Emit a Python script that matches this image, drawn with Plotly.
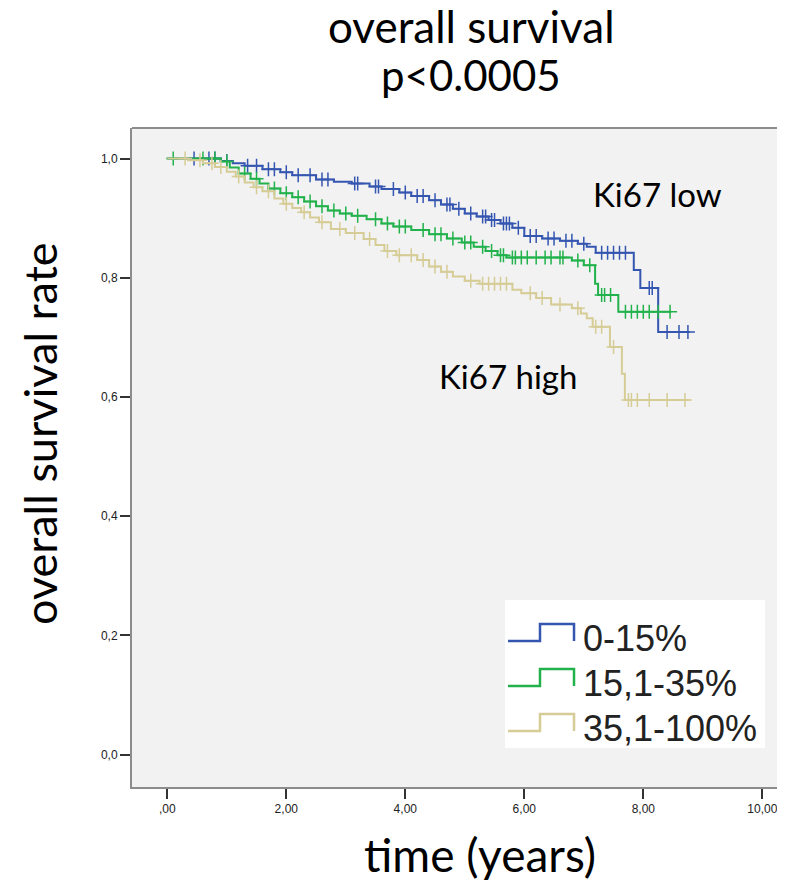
import numpy as np
import plotly.graph_objects as go

# Kaplan-Meier steps (time in years, survival)
low_t = [0, 0.9, 1.1, 1.3, 1.6, 1.9, 2.1, 2.5, 2.8, 3.1, 3.4, 3.6, 3.9, 4.1, 4.4, 4.6, 4.8, 5.0,
         5.2, 5.4, 5.6, 5.8, 6.0, 6.3, 6.6, 6.9, 7.05, 7.2, 7.84, 7.95, 8.25, 8.78]
low_s = [1.0, 0.996, 0.992, 0.988, 0.982, 0.977, 0.972, 0.965, 0.961, 0.958, 0.953, 0.949, 0.943,
         0.937, 0.930, 0.923, 0.916, 0.908, 0.903, 0.897, 0.891, 0.884, 0.870, 0.866, 0.862, 0.857,
         0.852, 0.842, 0.813, 0.783, 0.709, 0.709]
low_cens = [0.45, 0.7, 0.8, 1.0, 1.35, 1.5, 1.7, 1.8, 2.0, 2.2, 2.4, 2.6, 2.7, 3.15, 3.2, 3.5, 3.55,
            3.8, 4.0, 4.2, 4.3, 4.5, 4.7, 4.75, 4.9, 5.1, 5.3, 5.35, 5.45, 5.5, 5.65, 5.7, 5.75, 5.9,
            6.1, 6.2, 6.4, 6.5, 6.7, 6.8, 7.0, 7.3, 7.4, 7.5, 7.6, 7.7, 8.1, 8.15, 8.4, 8.6, 8.75]

mid_t = [0, 0.9, 1.05, 1.2, 1.4, 1.55, 1.7, 1.9, 2.1, 2.3, 2.5, 2.7, 2.9, 3.1, 3.35, 3.6, 3.8, 4.1,
         4.4, 4.7, 4.95, 5.15, 5.35, 5.55, 5.7, 6.8, 7.0, 7.19, 7.24, 7.58, 8.47]
mid_s = [1.0, 0.995, 0.985, 0.975, 0.966, 0.958, 0.950, 0.942, 0.935, 0.928, 0.920, 0.913, 0.908,
         0.904, 0.898, 0.891, 0.886, 0.880, 0.873, 0.866, 0.859, 0.852, 0.845, 0.838, 0.834, 0.829,
         0.821, 0.790, 0.771, 0.743, 0.743]
mid_cens = [0.1, 0.6, 0.8, 1.0, 1.3, 1.5, 1.8, 2.0, 2.2, 2.4, 2.6, 2.8, 3.0, 3.2, 3.5, 3.7, 3.9, 4.0,
            4.3, 4.5, 4.6, 4.8, 5.0, 5.1, 5.3, 5.45, 5.6, 5.65, 5.8, 5.85, 5.95, 6.05, 6.2, 6.35,
            6.45, 6.6, 6.65, 6.9, 7.1, 7.3, 7.35, 7.45, 7.7, 7.8, 7.9, 8.0, 8.1, 8.25, 8.45]

high_t = [0, 0.35, 0.6, 0.8, 1.0, 1.15, 1.3, 1.45, 1.6, 1.8, 1.95, 2.1, 2.25, 2.4, 2.55, 2.75, 3.0,
          3.3, 3.5, 3.65, 3.85, 4.2, 4.4, 4.6, 4.8, 5.0, 5.25, 5.8, 5.95, 6.2, 6.45, 6.8, 6.95,
          7.05, 7.15, 7.44, 7.64, 7.69, 8.77]
high_s = [1.0, 0.997, 0.992, 0.986, 0.978, 0.970, 0.960, 0.952, 0.945, 0.933, 0.924, 0.917, 0.910,
          0.901, 0.893, 0.882, 0.875, 0.865, 0.855, 0.845, 0.838, 0.830, 0.819, 0.810, 0.802, 0.795,
          0.790, 0.780, 0.774, 0.766, 0.755, 0.749, 0.740, 0.732, 0.718, 0.684, 0.639, 0.595, 0.595]
high_cens = [0.3, 0.55, 0.75, 0.9, 1.2, 1.5, 1.7, 2.0, 2.3, 2.6, 2.9, 3.15, 3.4, 3.7, 3.9, 4.1, 4.3,
             4.5, 4.7, 5.1, 5.3, 5.4, 5.5, 5.6, 5.7, 6.1, 6.3, 6.6, 6.9, 7.2, 7.3, 7.5, 7.75, 7.8,
             7.9, 8.1, 8.4, 8.7]

groups = ["0-15%", "15,1-35%", "35,1-100%"]
colors = ["#3556b0", "#22b24c", "#d6cc96"]

x_ticks = [0, 2, 4, 6, 8, 10]
x_ticktext = [",00", "2,00", "4,00", "6,00", "8,00", "10,00"]
y_ticks = [0, 0.2, 0.4, 0.6, 0.8, 1.0]
y_ticktext = ["0,0", "0,2", "0,4", "0,6", "0,8", "1,0"]

# page body has an 8px margin, so the figure is kept a bit smaller to avoid scrollbars
OFF = 8
W, H = 785 - OFF, 894 - 2 * OFF
# plot area in page pixels
L, R, T, B = 132, OFF + W, 128, 787
def px(x): return (x - L) / (R - L)
def py(y): return (B - y) / (B - T)

fig = go.Figure()
for t, s, c, col, name in zip([low_t, mid_t, high_t], [low_s, mid_s, high_s],
                              [low_cens, mid_cens, high_cens], colors, groups):
    fig.add_trace(go.Scatter(x=t, y=s, mode="lines", line=dict(color=col, width=2, shape="hv"),
                             name=name, showlegend=False))
    idx = np.searchsorted(np.array(t), c, side="right") - 1
    cy = np.array(s)[idx]
    fig.add_trace(go.Scatter(x=c, y=cy, mode="markers", showlegend=False,
                             marker=dict(symbol="cross-thin", size=10, color=col,
                                         line=dict(width=1.5, color=col))))

# legend box drawn by hand (step icons)
shapes = [
    dict(type="line", xref="paper", yref="paper", x0=0, x1=1, y0=1, y1=1,
         line=dict(color="#8c8c8c", width=2)),
    dict(type="rect", xref="paper", yref="paper", x0=px(505), x1=px(765), y0=py(748), y1=py(600),
         fillcolor="white", line=dict(width=0), layer="below"),
]
annotations = []
for i, (name, col) in enumerate(zip(groups, colors)):
    lo = 641 + 45 * i
    hi = lo - 17
    path = "M {:.4f},{:.4f} H {:.4f} V {:.4f} H {:.4f} V {:.4f}".format(
        px(508), py(lo), px(540), py(hi), px(574), py(lo))
    shapes.append(dict(type="path", xref="paper", yref="paper", path=path,
                       line=dict(color=col, width=2.5)))
    annotations.append(dict(xref="paper", yref="paper", x=px(581), y=py(638 + 45 * i),
                            xanchor="left", yanchor="middle", showarrow=False, text=name,
                            font=dict(family="Liberation Sans, Arial", size=36, color="#222")))

annotations += [
    dict(x=7.12, y=0.94, xref="x", yref="y", xanchor="left", yanchor="middle", showarrow=False,
         text="Ki67 low", font=dict(family="Lato", size=33, color="black")),
    dict(x=4.53, y=0.635, xref="x", yref="y", xanchor="left", yanchor="middle", showarrow=False,
         text="Ki67 high", font=dict(family="Lato", size=33, color="black")),
    dict(xref="paper", yref="paper", x=px(40), y=py(434), xanchor="center", yanchor="middle",
         textangle=-90, showarrow=False, text="overall survival rate",
         font=dict(family="Lato", size=45, color="black")),
    dict(xref="paper", yref="paper", x=px(480), y=py(854), xanchor="center", yanchor="middle",
         showarrow=False, text="time (years)", font=dict(family="Lato", size=46, color="black")),
    dict(xref="paper", yref="paper", x=px(471), y=py(26), xanchor="center", yanchor="middle",
         showarrow=False, text="overall survival", font=dict(family="Lato", size=44, color="black")),
    dict(xref="paper", yref="paper", x=px(471), y=py(75), xanchor="center", yanchor="middle",
         showarrow=False, text="p&lt;0.0005", font=dict(family="Lato", size=42, color="black")),
]

fig.update_layout(
    width=W, height=H,
    margin=dict(l=L - OFF, r=0, t=T - OFF, b=OFF + H - B),
    paper_bgcolor="white", plot_bgcolor="#f2f2f2",
    shapes=shapes, annotations=annotations,
    showlegend=False,
)
x_right = 10.0 + (R - 762.3) / 59.5
fig.update_xaxes(range=[-0.593, x_right], tickvals=x_ticks, ticktext=x_ticktext,
                 showgrid=False, zeroline=False, showline=True, linecolor="#8c8c8c", linewidth=2,
                 ticks="outside", ticklen=10, tickwidth=1.5, tickcolor="#333",
                 ticklabeloverflow="allow",
                 tickfont=dict(family="Liberation Sans, Arial", size=12, color="#222"))
fig.update_yaxes(range=[-0.0544, 1.0513], tickvals=y_ticks, ticktext=y_ticktext,
                 showgrid=False, zeroline=False, showline=True, linecolor="#8c8c8c", linewidth=2,
                 ticks="outside", ticklen=10, tickwidth=1.5, tickcolor="#333",
                 tickfont=dict(family="Liberation Sans, Arial", size=12, color="#222"))

fig.write_html("out.html")
